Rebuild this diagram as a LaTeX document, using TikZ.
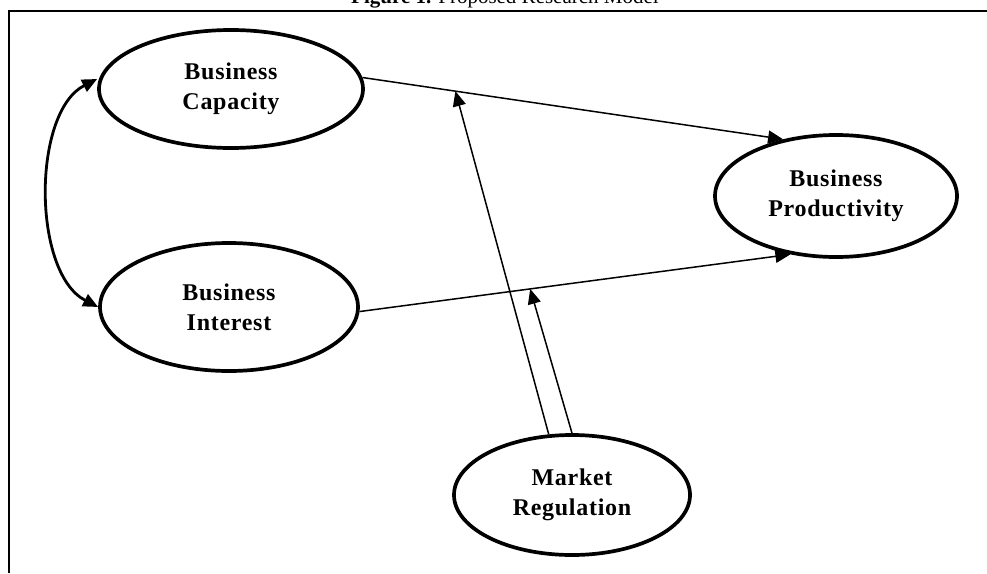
\documentclass[tikz,border=0pt]{standalone}
\usepackage{fontspec}
\setmainfont{Liberation Serif}
\usetikzlibrary{shapes.geometric,arrows.meta}
\newfontfamily\labelfont[LetterSpace=3]{Liberation Serif}
\tikzset{
  construct/.style={draw, line width=3.7pt, ellipse, inner sep=0pt, align=center,
    font=\labelfont\fontsize{24}{30}\selectfont\bfseries},
  path line/.style={line width=1.5pt, -{Triangle[length=15pt,width=13pt]}},
  corr/.style={line width=2.8pt, {Triangle[length=15pt,width=13pt]}-{Triangle[length=15pt,width=13pt]}},
  frameline/.style={line width=2pt}
}
\begin{document}
\begin{tikzpicture}[x=1pt,y=-1pt]
\useasboundingbox (0,0) rectangle (987,573);
% title (partly cut off at the top, as in the reference)
\node[anchor=base, font=\fontsize{21}{24}\selectfont, inner sep=0pt] (title) at (505,3.5) {\textbf{Figure 1.} Proposed Research Model};
% frame
\coordinate (fl) at (8.5,573);
\coordinate (fc) at (8.5,10.5);
\coordinate (fr) at (987,10.5);
\draw[frameline] (fl) -- (fc) -- (fr);
% constructs
\node[construct, minimum width=264pt, minimum height=118pt] (cap) at (231,89) {Business\\Capacity};
\node[construct, minimum width=258pt, minimum height=128pt] (int) at (229,307) {Business\\Interest};
\node[construct, minimum width=242pt, minimum height=122pt] (prod) at (836,196) {Business\\Productivity};
\node[construct, minimum width=236pt, minimum height=120pt] (mr) at (572,495) {Market\\Regulation};
% direct paths
\draw[path line] (cap.5) -- (prod.133) coordinate[pos=0.221] (m1);
\draw[path line] (int.358) -- (prod.232) coordinate[pos=0.396] (m2);
% moderating paths
\draw[path line] (mr.111) -- (m1);
\draw[path line] (mr.north) -- (m2);
% correlation
\path (cap.west) ++(0,-10) coordinate (c1);
\draw[corr] (c1) .. controls (32,112) and (32,273) .. (int.west);
\end{tikzpicture}
\end{document}
